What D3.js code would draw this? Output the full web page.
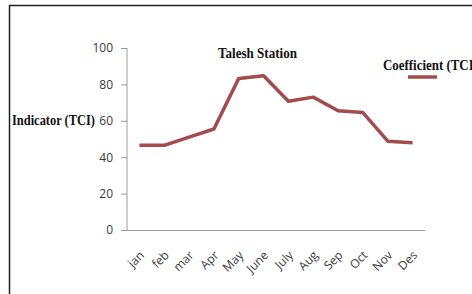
<!DOCTYPE html>
<html>
<head>
<meta charset="utf-8">
<script src="https://cdn.jsdelivr.net/npm/d3@7"></script>
<style>
  body { margin: 0; background: #fff; }
  .tick text { font-family: "Open Sans", sans-serif; font-size: 12px; fill: #3a3a3a; }
  .serif { font-family: "Liberation Serif", serif; font-weight: bold; font-size: 14px; fill: #111; }
</style>
</head>
<body>
<div id="graph"></div>
<script>
const months = [ "jan", "feb", "mar", "Apr", "May", "June", "July", "Aug", "Sep", "Oct", "Nov", "Des" ];
const tci = [ 46.5, 46.5, 51, 55.5, 83.3, 84.7, 70.7, 73, 65.5, 64.5, 48.8, 48 ];
const yTicks = [ 0, 20, 40, 60, 80, 100 ];

let options = {
  width: 472,
  height: 294,
  lineColor: "#a14c4f",
  axisColor: "#9a9a9a",
  margins: { top: 48, right: 47, bottom: 64, left: 127 }
}

let svg = d3.select( "#graph" )
            .append( "svg" )
            .attr( "width", options.width )
            .attr( "height", options.height );

// frame (only left and top edges are visible in the crop)
svg.append( "path" )
   .attr( "d", "M9.5,294V5.5H472" )
   .attr( "fill", "none" )
   .attr( "stroke", "#222" )
   .attr( "stroke-width", 1.5 );

let xScale = d3.scalePoint()
               .domain( months )
               .range( [ options.margins.left, options.width - options.margins.right ] )
               .padding( 0.5 );

let yScale = d3.scaleLinear()
               .domain( [ 0, 100 ] )
               .range( [ 230, options.margins.top ] );

// y axis
let yAxis = svg.append( "g" )
               .attr( "transform", `translate(${options.margins.left},0)` )
               .call( d3.axisLeft( yScale ).tickValues( yTicks ).tickSize( 6 ).tickSizeOuter( 0 ).tickPadding( 8 ) );
yAxis.selectAll( "line, path" ).attr( "stroke", options.axisColor );
yAxis.select( ".domain" ).attr( "d", `M0,${yScale(100)}V${yScale(0)}` );

// x axis
let xAxis = svg.append( "g" )
               .attr( "transform", `translate(0,${yScale(0)})` )
               .call( d3.axisBottom( xScale ).tickSize( 0 ).tickSizeOuter( 0 ) );
xAxis.select( ".domain" )
     .attr( "stroke", options.axisColor )
     .attr( "d", `M${options.margins.left},0.5H${options.width - options.margins.right}` );
xAxis.selectAll( ".tick text" )
     .attr( "text-anchor", "end" )
     .attr( "dy", "0.35em" )
     .attr( "y", 0 )
     .attr( "transform", "translate(2,23) rotate(-45)" );

// TCI line
let line = d3.line()
             .x( ( d, i ) => xScale( months[i] ) )
             .y( d => yScale( d ) );

svg.append( "path" )
   .datum( tci )
   .attr( "d", line )
   .attr( "fill", "none" )
   .attr( "stroke", options.lineColor )
   .attr( "stroke-width", 3.5 )
   .attr( "stroke-linejoin", "round" );

// titles
svg.append( "text" )
   .text( "Talesh Station" )
   .classed( "serif", true )
   .attr( "x", 218 )
   .attr( "y", 58 )
   .attr( "textLength", 79 )
   .attr( "lengthAdjust", "spacingAndGlyphs" );

svg.append( "text" )
   .text( "Indicator (TCI)" )
   .classed( "serif", true )
   .attr( "x", 12 )
   .attr( "y", 125 )
   .attr( "textLength", 83 )
   .attr( "lengthAdjust", "spacingAndGlyphs" );

// legend
let legend = svg.append( "g" ).attr( "id", "legend" );

legend.append( "text" )
      .text( "Coefficient (TCI)" )
      .classed( "serif", true )
      .attr( "x", 383 )
      .attr( "y", 70 )
      .attr( "textLength", 95 )
      .attr( "lengthAdjust", "spacingAndGlyphs" );

legend.append( "line" )
      .attr( "x1", 408 )
      .attr( "x2", 437 )
      .attr( "y1", 77 )
      .attr( "y2", 77 )
      .attr( "stroke", options.lineColor )
      .attr( "stroke-width", 3.5 );
</script>
</body>
</html>
